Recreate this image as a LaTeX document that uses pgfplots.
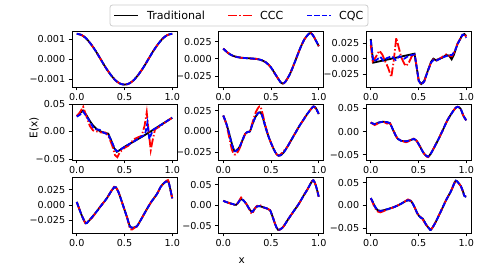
\documentclass[border=0pt]{standalone}
\usepackage{fontspec}
\setmainfont{DejaVu Sans}
\usepackage{pgfplots}
\pgfplotsset{compat=1.18}
\usepackage{pgfplotstable}

\pgfplotstableread{
x t c q
0 0.00128 0.00128 0.00128
0.05 0.00122 0.00122 0.00122
0.1 0.00104 0.00104 0.00104
0.15 0.00075 0.00075 0.00075
0.2 0.00040 0.00040 0.00040
0.25 0.0 0.0 0.0
0.3 -0.00040 -0.00040 -0.00040
0.35 -0.00075 -0.00075 -0.00075
0.4 -0.00104 -0.00104 -0.00104
0.45 -0.00122 -0.00122 -0.00122
0.5 -0.00128 -0.00128 -0.00128
0.55 -0.00122 -0.00122 -0.00122
0.6 -0.00104 -0.00104 -0.00104
0.65 -0.00075 -0.00075 -0.00075
0.7 -0.00040 -0.00040 -0.00040
0.75 0.0 0.0 0.0
0.8 0.00040 0.00040 0.00040
0.85 0.00075 0.00075 0.00075
0.9 0.00104 0.00104 0.00104
0.95 0.00122 0.00122 0.00122
1.0 0.00128 0.00128 0.00128
}\pA

\pgfplotstableread{
x t c q
0 0.0150 0.0150 0.0150
0.05 0.0085 0.0087 0.0085
0.1 0.0045 0.0043 0.0045
0.15 0.0025 0.0027 0.0025
0.2 0.0015 0.0013 0.0015
0.25 0.0010 0.0014 0.0010
0.3 0.0005 0.0002 0.0005
0.35 -0.0002 0.0000 -0.0002
0.4 -0.0018 -0.0020 -0.0018
0.45 -0.0055 -0.0055 -0.0055
0.5 -0.0125 -0.0125 -0.0125
0.55 -0.0235 -0.0235 -0.0235
0.6 -0.0340 -0.0340 -0.0340
0.62 -0.0360 -0.0362 -0.0360
0.65 -0.0335 -0.0335 -0.0335
0.7 -0.0215 -0.0215 -0.0215
0.75 -0.0045 -0.0045 -0.0045
0.8 0.0135 0.0135 0.0135
0.85 0.0285 0.0285 0.0285
0.9 0.0370 0.0370 0.0370
0.92 0.0375 0.0375 0.0375
0.95 0.0320 0.0320 0.0320
1.0 0.0185 0.0185 0.0185
}\pB

\pgfplotstableread{
x y
0 0.032
0.025 -0.0065
0.458 0.0082
0.503 -0.036
0.528 -0.041
0.56 -0.036
0.6 -0.0185
0.632 -0.005
0.656 0.000
0.68 -0.0024
0.75 0.0016
0.79 0.006
0.82 0.005
0.847 -0.001
0.87 0.006
0.91 0.0245
0.96 0.0384
0.98 0.040
1.0 0.037
}\pCt

\pgfplotstableread{
x y
0 0.022
0.02 -0.004
0.05 0.002
0.09 0.013
0.12 0.007
0.15 -0.004
0.18 -0.014
0.215 -0.030
0.24 -0.004
0.267 0.034
0.29 0.020
0.32 0.002
0.35 -0.008
0.37 -0.012
0.40 -0.006
0.43 0.004
0.46 0.008
0.503 -0.037
0.53 -0.042
0.56 -0.037
0.6 -0.019
0.632 -0.006
0.66 -0.001
0.69 -0.003
0.75 0.003
0.79 0.007
0.82 0.005
0.85 0.004
0.88 0.012
0.91 0.025
0.96 0.038
0.98 0.039
1.0 0.036
}\pCc

\pgfplotstableread{
x y
0 0.030
0.025 -0.004
0.06 -0.002
0.1 0.003
0.13 -0.003
0.17 0.001
0.22 0.004
0.26 -0.002
0.3 0.004
0.35 0.000
0.4 0.005
0.46 0.007
0.503 -0.036
0.53 -0.042
0.56 -0.037
0.6 -0.019
0.632 -0.006
0.66 -0.002
0.69 -0.003
0.75 0.002
0.79 0.004
0.82 0.006
0.85 0.006
0.88 0.012
0.91 0.024
0.96 0.039
0.98 0.038
1.0 0.034
}\pCq

\pgfplotstableread{
x y
0 0.028
0.03 0.033
0.067 0.038
0.1 0.030
0.137 0.019
0.17 0.011
0.21 0.004
0.25 0.000
0.28 -0.002
0.33 -0.004
0.36 -0.016
0.39 -0.030
0.42 -0.037
0.45 -0.034
0.5 -0.028
0.6 -0.018
0.7 -0.008
0.8 0.003
0.9 0.014
1.0 0.025
}\pDt

\pgfplotstableread{
x y
0 0.028
0.03 0.034
0.067 0.045
0.1 0.028
0.137 0.010
0.17 0.002
0.21 0.000
0.26 -0.002
0.3 -0.002
0.33 -0.008
0.37 -0.025
0.40 -0.043
0.425 -0.047
0.45 -0.038
0.5 -0.030
0.54 -0.026
0.6 -0.014
0.65 -0.010
0.68 -0.008
0.71 0.010
0.733 0.035
0.75 0.005
0.775 -0.034
0.79 -0.020
0.82 0.004
0.87 0.009
0.93 0.017
1.0 0.025
}\pDc

\pgfplotstableread{
x y
0 0.027
0.03 0.030
0.067 0.036
0.1 0.028
0.137 0.018
0.17 0.008
0.2 0.004
0.24 0.003
0.28 -0.002
0.33 -0.006
0.37 -0.020
0.4 -0.032
0.42 -0.036
0.45 -0.034
0.5 -0.028
0.6 -0.018
0.7 -0.007
0.72 -0.002
0.74 0.016
0.76 -0.014
0.78 -0.005
0.8 0.003
0.9 0.014
1.0 0.025
}\pDq

\pgfplotstableread{
x t c q
0 0.019 0.019 0.019
0.03 0.010 0.009 0.010
0.06 -0.002 -0.006 -0.002
0.09 -0.015 -0.022 -0.016
0.116 -0.0235 -0.028 -0.024
0.14 -0.023 -0.027 -0.023
0.17 -0.019 -0.021 -0.019
0.2 -0.011 -0.012 -0.011
0.23 -0.003 -0.003 -0.003
0.26 -0.0005 -0.0005 -0.0005
0.28 0.000 0.001 0.000
0.31 0.010 0.012 0.010
0.34 0.018 0.023 0.018
0.37 0.0225 0.029 0.0225
0.39 0.023 0.030 0.023
0.41 0.018 0.022 0.018
0.44 0.006 0.008 0.006
0.47 -0.005 -0.005 -0.005
0.5 -0.014 -0.014 -0.014
0.53 -0.022 -0.022 -0.022
0.56 -0.028 -0.028 -0.028
0.58 -0.0295 -0.0295 -0.0295
0.6 -0.029 -0.028 -0.029
0.63 -0.026 -0.024 -0.026
0.67 -0.019 -0.019 -0.019
0.7 -0.013 -0.013 -0.013
0.73 -0.007 -0.007 -0.007
0.77 0.001 0.001 0.001
0.8 0.007 0.007 0.007
0.84 0.014 0.014 0.014
0.88 0.021 0.021 0.021
0.92 0.027 0.027 0.027
0.945 0.030 0.030 0.030
0.97 0.028 0.027 0.028
1.0 0.021 0.021 0.021
}\pE

\pgfplotstableread{
x t c q
0 0.019 0.020 0.019
0.04 0.016 0.014 0.016
0.08 0.019 0.018 0.019
0.13 0.021 0.021 0.021
0.17 0.020 0.017 0.020
0.2 0.018 0.018 0.018
0.23 0.005 0.005 0.005
0.26 -0.008 -0.008 -0.008
0.285 -0.016 -0.016 -0.016
0.32 -0.020 -0.019 -0.020
0.37 -0.021 -0.023 -0.021
0.41 -0.019 -0.019 -0.019
0.45 -0.016 -0.015 -0.016
0.48 -0.020 -0.020 -0.020
0.51 -0.030 -0.030 -0.030
0.55 -0.045 -0.045 -0.045
0.58 -0.052 -0.052 -0.052
0.6 -0.054 -0.055 -0.054
0.63 -0.047 -0.047 -0.047
0.7 -0.020 -0.020 -0.020
0.75 0.001 0.001 0.001
0.8 0.023 0.023 0.023
0.85 0.040 0.040 0.040
0.89 0.051 0.051 0.051
0.91 0.053 0.053 0.053
0.94 0.049 0.049 0.049
0.97 0.034 0.034 0.034
1.0 0.024 0.024 0.024
}\pF

\pgfplotstableread{
x t c q
0 0.005 0.005 0.005
0.03 -0.008 -0.008 -0.008
0.06 -0.020 -0.020 -0.020
0.095 -0.030 -0.031 -0.030
0.12 -0.027 -0.026 -0.027
0.16 -0.020 -0.021 -0.020
0.207 -0.011 -0.011 -0.011
0.25 -0.002 -0.002 -0.002
0.31 0.010 0.010 0.010
0.35 0.020 0.020 0.020
0.39 0.029 0.030 0.029
0.41 0.029 0.029 0.029
0.44 0.020 0.020 0.020
0.49 -0.003 -0.003 -0.003
0.53 -0.022 -0.022 -0.022
0.56 -0.036 -0.040 -0.036
0.6 -0.037 -0.038 -0.037
0.63 -0.035 -0.035 -0.035
0.68 -0.022 -0.022 -0.022
0.73 -0.008 -0.008 -0.008
0.78 0.005 0.005 0.005
0.84 0.018 0.018 0.018
0.88 0.030 0.030 0.030
0.92 0.037 0.037 0.037
0.955 0.039 0.041 0.039
0.97 0.033 0.033 0.033
1.0 0.011 0.011 0.011
}\pG

\pgfplotstableread{
x t c q
0 0.011 0.011 0.011
0.03 0.008 0.008 0.008
0.063 0.0055 0.0055 0.0055
0.1 0.003 0.001 0.003
0.134 0.001 0.001 0.001
0.16 0.008 0.008 0.008
0.187 0.015 0.019 0.015
0.215 0.011 0.011 0.011
0.24 0.004 0.004 0.004
0.27 -0.008 -0.008 -0.008
0.3 -0.016 -0.021 -0.016
0.325 -0.010 -0.010 -0.010
0.35 -0.003 -0.002 -0.003
0.38 -0.002 0.001 -0.002
0.42 -0.005 -0.005 -0.005
0.46 -0.008 -0.008 -0.008
0.49 -0.012 -0.012 -0.012
0.52 -0.030 -0.030 -0.030
0.55 -0.050 -0.050 -0.050
0.575 -0.060 -0.060 -0.060
0.6 -0.058 -0.058 -0.058
0.63 -0.052 -0.052 -0.052
0.68 -0.034 -0.034 -0.034
0.73 -0.017 -0.017 -0.017
0.79 0.003 0.003 0.003
0.84 0.023 0.023 0.023
0.88 0.038 0.038 0.038
0.92 0.055 0.055 0.055
0.944 0.061 0.061 0.061
0.97 0.048 0.048 0.048
1.0 0.021 0.021 0.021
}\pH

\pgfplotstableread{
x t c q
0 0.016 0.016 0.016
0.02 0.008 0.006 0.008
0.04 -0.001 -0.004 -0.001
0.07 -0.010 -0.013 -0.010
0.1 -0.012 -0.015 -0.012
0.16 -0.009 -0.010 -0.009
0.25 -0.003 -0.003 -0.003
0.32 0.004 0.004 0.004
0.36 0.009 0.009 0.009
0.39 0.0115 0.013 0.0115
0.42 0.010 0.010 0.010
0.45 0.000 0.000 0.000
0.49 -0.018 -0.018 -0.018
0.52 -0.026 -0.024 -0.026
0.545 -0.029 -0.031 -0.029
0.58 -0.042 -0.042 -0.042
0.615 -0.051 -0.051 -0.051
0.63 -0.053 -0.053 -0.053
0.67 -0.040 -0.040 -0.040
0.736 -0.012 -0.012 -0.012
0.79 0.012 0.012 0.012
0.84 0.031 0.031 0.031
0.87 0.046 0.046 0.046
0.89 0.054 0.054 0.054
0.91 0.051 0.051 0.051
0.944 0.042 0.042 0.042
0.97 0.028 0.027 0.028
0.98 0.021 0.020 0.021
1.0 0.019 0.020 0.019
}\pI

\pgfplotsset{
  panel/.style={
    scale only axis, width=105pt, height=56pt, anchor=south west,
    xmin=-0.05, xmax=1.05, xtick={0,0.5,1}, xticklabels={0.0,0.5,1.0},
    scaled y ticks=false, scaled x ticks=false,
    tick align=outside, tick pos=left, major tick length=3.3pt,
    axis line style={line width=0.75pt},
    tick style={black, line width=0.75pt},
    tick label style={font=\fontsize{9.6}{11}\selectfont},
  },
  ya/.style={ytick={-0.025,0,0.025}, yticklabels={−0.025,0.000,0.025}},
  yb/.style={ytick={-0.05,0,0.05}, yticklabels={−0.05,0.00,0.05}},
}
\tikzset{
  trad/.style={color=black, draw=black, line width=1.8pt},
  ccc/.style={color=red, draw=red, line width=1.8pt, dash pattern=on 8.9pt off 2.2pt on 1.4pt off 2.2pt},
  cqc/.style={color=blue, draw=blue, line width=1.8pt, dash pattern=on 5.2pt off 2.2pt},
}

\begin{document}
\begin{tikzpicture}[x=1pt,y=1pt]
\useasboundingbox (0,0) rectangle (478,274);

% row 1
\begin{axis}[panel, at={(72pt,187pt)}, ymin=-0.0014, ymax=0.00142,
  ytick={-0.001,0,0.001}, yticklabels={−0.001,0.000,0.001}]
\addplot[trad, smooth] table[x=x,y=t]{\pA};
\addplot[ccc, smooth] table[x=x,y=c]{\pA};
\addplot[cqc, smooth] table[x=x,y=q]{\pA};
\end{axis}

\begin{axis}[panel, at={(218.5pt,187pt)}, ymin=-0.041, ymax=0.0406, ya]
\addplot[trad, smooth] table[x=x,y=t]{\pB};
\addplot[ccc, smooth] table[x=x,y=c]{\pB};
\addplot[cqc, smooth] table[x=x,y=q]{\pB};
\end{axis}

\begin{axis}[panel, at={(366pt,187pt)}, ymin=-0.046, ymax=0.045, ya]
\addplot[trad] table[x=x,y=y]{\pCt};
\addplot[ccc] table[x=x,y=y]{\pCc};
\addplot[cqc] table[x=x,y=y]{\pCq};
\end{axis}

% row 2
\begin{axis}[panel, at={(72pt,114pt)}, ymin=-0.052, ymax=0.050, yb]
\addplot[trad] table[x=x,y=y]{\pDt};
\addplot[ccc] table[x=x,y=y]{\pDc};
\addplot[cqc] table[x=x,y=y]{\pDq};
\end{axis}

\begin{axis}[panel, at={(218.5pt,114pt)}, ymin=-0.0347, ymax=0.033, ya]
\addplot[trad, smooth] table[x=x,y=t]{\pE};
\addplot[ccc, smooth] table[x=x,y=c]{\pE};
\addplot[cqc, smooth] table[x=x,y=q]{\pE};
\end{axis}

\begin{axis}[panel, at={(366pt,114pt)}, ymin=-0.061, ymax=0.059, yb]
\addplot[trad, smooth] table[x=x,y=t]{\pF};
\addplot[ccc, smooth] table[x=x,y=c]{\pF};
\addplot[cqc, smooth] table[x=x,y=q]{\pF};
\end{axis}

% row 3
\begin{axis}[panel, at={(72pt,41pt)}, ymin=-0.046, ymax=0.046, ya]
\addplot[trad, smooth] table[x=x,y=t]{\pG};
\addplot[ccc, smooth] table[x=x,y=c]{\pG};
\addplot[cqc, smooth] table[x=x,y=q]{\pG};
\end{axis}

\begin{axis}[panel, at={(218.5pt,41pt)}, ymin=-0.0676, ymax=0.069, yb]
\addplot[trad, smooth] table[x=x,y=t]{\pH};
\addplot[ccc, smooth] table[x=x,y=c]{\pH};
\addplot[cqc, smooth] table[x=x,y=q]{\pH};
\end{axis}

\begin{axis}[panel, at={(366pt,41pt)}, ymin=-0.060, ymax=0.062, yb]
\addplot[trad, smooth] table[x=x,y=t]{\pI};
\addplot[ccc, smooth] table[x=x,y=c]{\pI};
\addplot[cqc, smooth] table[x=x,y=q]{\pI};
\end{axis}

% legend frame
\draw[black!20, line width=0.8pt, fill=white, rounded corners=2.5pt] (110,248) rectangle (368,269);
% legend handles drawn through a hidden axis spanning the legend box
\begin{axis}[scale only axis, width=258pt, height=21pt, at={(110pt,248pt)}, anchor=south west,
  xmin=110, xmax=368, ymin=248, ymax=269, hide axis, clip=false]
\addplot[trad] coordinates {(114,258.5) (138,258.5)};
\addplot[ccc] coordinates {(228,258.5) (252,258.5)};
\addplot[cqc] coordinates {(307,258.5) (331,258.5)};
\end{axis}
\node[anchor=base west, inner sep=0pt, font=\fontsize{11.1}{13}\selectfont] at (147,254.5) {Traditional};
\node[anchor=base west, inner sep=0pt, font=\fontsize{11.1}{13}\selectfont] at (260,254.5) {CCC};
\node[anchor=base west, inner sep=0pt, font=\fontsize{11.1}{13}\selectfont] at (339,254.5) {CQC};

\node[rotate=90, font=\fontsize{10.5}{12}\selectfont] at (34,146) {E(x)};
\node[anchor=base, font=\fontsize{10.5}{12}\selectfont] at (241.7,11) {x};
\end{tikzpicture}
\end{document}
